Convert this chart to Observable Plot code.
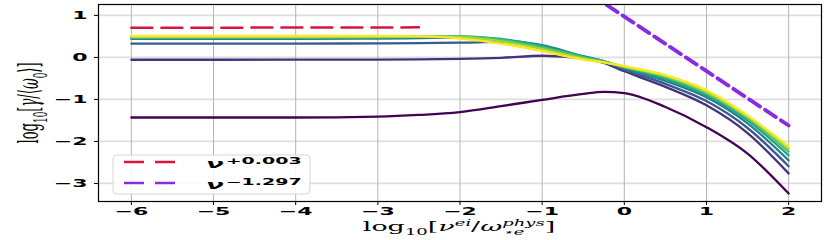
<!DOCTYPE html>
<html><head><meta charset="utf-8">
<script src="https://cdn.jsdelivr.net/npm/d3@7"></script>
<script src="https://cdn.jsdelivr.net/npm/@observablehq/plot@0.6"></script>
<style>body{margin:0;background:#fff} svg{display:block}</style>
</head><body><div id="chart"></div>
<script>
// collision frequency grid, log10[nu_ei / omega*e]
const nu = [-6, -5, -4, -3, -2.5, -2, -1.5, -1, -0.5, -0.25, 0, 0.5, 1, 1.5, 2];
// growth rates log10[gamma/<omega0>] for eight parameter values (viridis order)
const g0 = [-1.43, -1.43, -1.43, -1.41, -1.37, -1.30, -1.16, -1.01, -0.87, -0.82, -0.85, -1.18, -1.66, -2.29, -3.24];
const g1 = [-0.055, -0.055, -0.05, -0.05, -0.045, -0.035, -0.01, 0.04, -0.02, -0.13, -0.33, -0.70, -1.14, -1.80, -2.76];
const g2 = [0.33, 0.33, 0.33, 0.335, 0.34, 0.35, 0.37, 0.25, 0.02, -0.10, -0.29, -0.63, -1.04, -1.68, -2.59];
const g3 = [0.44, 0.44, 0.44, 0.45, 0.46, 0.47, 0.42, 0.29, 0.03, -0.09, -0.26, -0.56, -0.95, -1.57, -2.45];
const g4 = [0.46, 0.46, 0.46, 0.47, 0.49, 0.50, 0.44, 0.27, 0.02, -0.09, -0.24, -0.51, -0.90, -1.50, -2.33];
const g5 = [0.47, 0.47, 0.47, 0.48, 0.50, 0.50, 0.42, 0.24, 0.00, -0.10, -0.23, -0.47, -0.86, -1.45, -2.24];
const g6 = [0.49, 0.49, 0.49, 0.50, 0.50, 0.48, 0.38, 0.20, -0.03, -0.11, -0.22, -0.44, -0.82, -1.41, -2.17];
const g7 = [0.51, 0.51, 0.51, 0.51, 0.50, 0.45, 0.33, 0.15, -0.05, -0.12, -0.21, -0.42, -0.78, -1.38, -2.12];
const seriesColors = ["#440154", "#46327e", "#365c8d", "#277f8e", "#1fa187", "#4ac16d", "#a0da39", "#fde725"];
// power-law fits
const fitLowNu = [-6, -2.5];
const fitLowG = [0.705, 0.716];
const fitHighNu = [-0.6, 2];
const fitHighG = [1.75, -1.62];
const xTicks = [-6, -5, -4, -3, -2, -1, 0, 1, 2];
const yTicks = [-3, -2, -1, 0, 1];
const legendLabels = [["ν", "+0.003"], ["ν", "−1.297"]];

const allSeries = [g0, g1, g2, g3, g4, g5, g6, g7];
const rows = allSeries.flatMap((s, k) => s.map((g, i) => ({nu: nu[i], g, k, color: seriesColors[k]})));
const fitLow = fitLowNu.map((x, i) => ({nu: x, g: fitLowG[i]}));
const fitHigh = fitHighNu.map((x, i) => ({nu: x, g: fitHighG[i]}));

const svg = Plot.plot({
  width: 831, height: 240,
  marginLeft: 98, marginRight: 10, marginTop: 4, marginBottom: 39,
  style: {fontFamily: "DejaVu Sans", fontSize: "22px", fontWeight: "bold", color: "#000", background: "#fff"},
  x: {domain: [-6.4, 2.4]},
  y: {domain: [-3.43, 1.26]},
  color: {type: "identity"},
  marks: [
    Plot.gridY(yTicks, {stroke: "#dedede", strokeOpacity: 1, strokeWidth: 1.8}),
    Plot.gridX(xTicks, {stroke: "#b5b5b5", strokeOpacity: 1, strokeWidth: 1}),
    Plot.line(rows, {x: "nu", y: "g", z: "k", stroke: "color", strokeWidth: 2.3, curve: "monotone-x"}),
    Plot.line(fitLow, {x: "nu", y: "g", stroke: "crimson", strokeWidth: 2.5, strokeDasharray: "21,9"}),
    Plot.line(fitHigh, {x: "nu", y: "g", stroke: "#8a2be2", strokeWidth: 3.8, strokeDasharray: "13,6", clip: true}),
    Plot.frame({stroke: "#000", strokeWidth: 1.2}),
    Plot.axisX(xTicks, {tickSize: 4, tickPadding: 2, label: null, stroke: "#000"}),
    Plot.axisY(yTicks, {tickSize: 4, tickPadding: 7, label: null, stroke: "#000"})
  ]
});
document.getElementById("chart").appendChild(svg);
const s = d3.select(svg);
const SY = 0.47;
s.selectAll('g[aria-label="x-axis tick label"] text, g[aria-label="y-axis tick label"] text').each(function () {
  const t = this.getAttribute("transform");
  if (t) this.setAttribute("transform", t + ` scale(1,${SY})`);
  else {
    const x = this.getAttribute("x") || 0, y = this.getAttribute("y") || 0;
    this.removeAttribute("x"); this.removeAttribute("y");
    this.setAttribute("transform", `translate(${x},${y}) scale(1,${SY})`);
  }
});

function mathLabel(transform, parts, size) {
  const t = s.append("text").attr("transform", transform).attr("text-anchor", "middle")
    .style("font-family", "DejaVu Serif").style("font-weight", "normal").style("font-size", size + "px").attr("fill", "#000");
  const els = [];
  for (const p of parts) {
    const ts = t.append("tspan").text(p.t);
    if (p.i) ts.style("font-style", "italic");
    if (p.s) ts.style("font-size", p.s + "px");
    if (p.dy) ts.attr("dy", p.dy);
    els.push(ts);
  }
  return {t, els};
}

// x label: log10[ν^{ei}/ω^{phys}_{⋆e}]
const xl = mathLabel(`translate(459,231) scale(1,${SY})`, [
  {t: "log"}, {t: "10", s: 18, dy: 8}, {t: "[", dy: -8}, {t: "ν", i: 1},
  {t: "ei", i: 1, s: 18, dy: -11}, {t: "/", dy: 11}, {t: "ω", i: 1},
  {t: "phys", i: 1, s: 18, dy: -11}, {t: "⋆e", i: 1, s: 18, dy: 19}, {t: "]", dy: -8}
], 27);
{
  const phys = xl.els[7].node().getComputedTextLength();
  const sub = xl.els[8].node().getComputedTextLength();
  xl.els[8].attr("dx", -phys);
  xl.els[9].attr("dx", Math.max(0, phys - sub));
}
// y label: log10[γ/⟨ω0⟩]
mathLabel(`translate(38,103) scale(1,${SY}) rotate(-90)`, [
  {t: "log"}, {t: "10", s: 19, dy: 9}, {t: "[", dy: -9}, {t: "γ", i: 1}, {t: "/"},
  {t: "⟨"}, {t: "ω", i: 1}, {t: "0", s: 19, dy: 9}, {t: "⟩", dy: -9}, {t: "]"}
], 28);

// legend
const lg = s.append("g");
lg.append("rect").attr("x", 113).attr("y", 155).attr("width", 197).attr("height", 39).attr("rx", 4)
  .attr("fill", "#fff").attr("fill-opacity", 0.85).attr("stroke", "#d5d5d5").attr("stroke-width", 1);
const legendColors = ["crimson", "#8a2be2"];
const legendY = [162, 183];
legendLabels.forEach(([base, sup], i) => {
  lg.append("line").attr("x1", 124).attr("x2", 176).attr("y1", legendY[i]).attr("y2", legendY[i])
    .attr("stroke", legendColors[i]).attr("stroke-width", 2.5).attr("stroke-dasharray", "20,11");
  const t = lg.append("text").attr("transform", `translate(206,${legendY[i] + 6}) scale(1,${SY})`)
    .attr("text-anchor", "start")
    .style("font-family", "DejaVu Sans").style("font-weight", "bold").style("font-size", "26px").attr("fill", "#000");
  t.append("tspan").text(base).style("font-style", "italic");
  t.append("tspan").text(sup).style("font-size", "19px").attr("dy", -9).attr("dx", 2);
});
</script>
</body></html>
